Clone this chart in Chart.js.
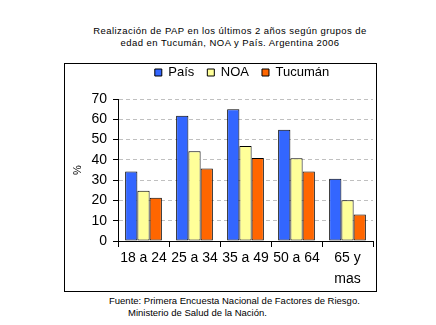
<!DOCTYPE html>
<html>
<head>
<meta charset="utf-8">
<script src="https://cdn.jsdelivr.net/npm/chart.js@4.4.1/dist/chart.umd.min.js"></script>
<style>
  body { margin: 0; background: #fff; width: 436px; height: 325px; position: relative; overflow: hidden; font-family: "Liberation Sans", Arial, sans-serif; }
  #titulo { position: absolute; left: 0; width: 460px; top: 25px; text-align: center; font-size: 9.5px; line-height: 12px; letter-spacing: 0.45px; color: #000; }
  #caja { position: absolute; left: 64px; top: 63px; width: 311px; height: 227px; border: 1px solid #000; }
  #fuente { position: absolute; left: 109px; top: 295px; font-size: 9.5px; line-height: 12px; letter-spacing: 0px; color: #000; }
  #fuente2 { padding-left: 19px; }
</style>
</head>
<body>
<div id="titulo">Realización de PAP en los últimos 2 años según grupos de<br>edad en Tucumán, NOA y País. Argentina 2006</div>
<div id="caja"><canvas id="chart" width="311" height="227"></canvas></div>
<div id="fuente">Fuente: Primera Encuesta Nacional de Factores de Riesgo.<div id="fuente2">Ministerio de Salud de la Nación.</div></div>
<script>
var gruposEdad = ["18 a 24", "25 a 34", "35 a 49", "50 a 64", ["65 y", "mas"]];
var valoresPais = [34.3, 61.8, 65, 54.9, 30.7];
var valoresNOA = [24.8, 44.3, 46.8, 40.8, 20.1];
var valoresTucuman = [21.3, 35.7, 40.9, 34.2, 13.1];

var datos = {
    labels : gruposEdad,
    datasets : [
        { label : "País", data : valoresPais, backgroundColor : "#3366FF" },
        { label : "NOA", data : valoresNOA, backgroundColor : "#FFFF99" },
        { label : "Tucumán", data : valoresTucuman, backgroundColor : "#FF6600" }
    ]
};
datos.datasets.forEach(function (ds) {
    ds.borderColor = "#000";
    ds.borderWidth = 1;
    ds.borderSkipped = false;
    ds.categoryPercentage = 0.72;
    ds.barPercentage = 1.0;
});

var fuente = { family : "Liberation Sans", size : 14 };

// alto fijo para la leyenda y la movemos un poco arriba / derecha
var ajusteLeyenda = {
    id : 'ajusteLeyenda',
    beforeInit : function (chart) {
        var fitOriginal = chart.legend.fit;
        chart.legend.fit = function () {
            fitOriginal.bind(chart.legend)();
            this.height = 35;
        };
    },
    afterLayout : function (chart) {
        var l = chart.legend;
        l.left += 20; l.right += 20;
        l.top -= 11; l.bottom -= 11;
    }
};

var canvas = document.getElementById('chart').getContext('2d');
window.bar = new Chart(canvas, {
    type : "bar",
    data : datos,
    plugins : [ajusteLeyenda],
    options : {
        responsive : false,
        animation : false,
        layout : { padding : { left : 6, right : 3, top : 0, bottom : 0 } },
        plugins : {
            legend : {
                position : 'top',
                labels : {
                    font : { family : "Liberation Sans", size : 13 },
                    color : "#000",
                    boxWidth : 7,
                    boxHeight : 7,
                    padding : 13
                }
            },
            title : { display : false },
            tooltip : { enabled : false }
        },
        scales : {
            x : {
                grid : {
                    offset : true,
                    drawOnChartArea : false,
                    tickLength : 6,
                    tickColor : "#000"
                },
                border : { color : "#000", width : 1 },
                ticks : { font : { family : "Liberation Sans", size : 14, lineHeight : 1.5 }, color : "#000", padding : 1, maxRotation : 0, autoSkip : false }
            },
            y : {
                min : 0,
                max : 70,
                grid : {
                    color : "#c0c0c0",
                    tickColor : "#000",
                    tickLength : 5
                },
                border : { color : "#000", width : 1, dash : [4, 3] },
                ticks : { stepSize : 10, font : fuente, color : "#000", padding : 6, autoSkip : false },
                title : { display : true, text : "%", font : { family : "Liberation Sans", size : 11 }, color : "#000", padding : { top : 0, bottom : 0 } },
                afterFit : function (scale) { scale.width = 47; }
            }
        }
    }
});
</script>
</body>
</html>
